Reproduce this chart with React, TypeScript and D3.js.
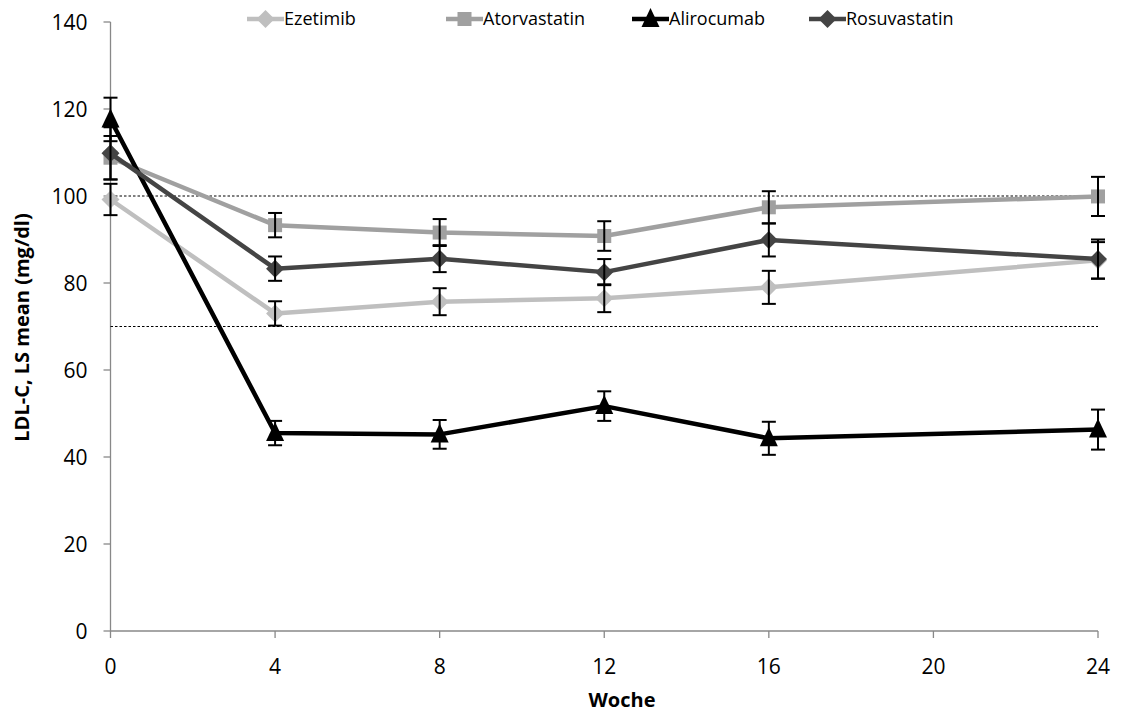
import React from "react";
import * as d3 from "d3";

const weeks = [0, 4, 8, 12, 16, 24];
const seriesNames = ["Ezetimib", "Atorvastatin", "Alirocumab", "Rosuvastatin"];
const ezetimib = [99.2, 73.0, 75.7, 76.5, 79.0, 85.2];
const ezetimibErr = [3.6, 2.8, 3.1, 3.2, 3.8, 4.2];
const atorvastatin = [108.8, 93.3, 91.6, 90.8, 97.4, 99.9];
const atorvastatinErr = [5.0, 2.8, 3.1, 3.4, 3.7, 4.5];
const alirocumab = [117.6, 45.5, 45.2, 51.7, 44.3, 46.3];
const alirocumabErr = [5.0, 2.8, 3.3, 3.4, 3.8, 4.6];
const rosuvastatin = [109.8, 83.3, 85.6, 82.5, 89.9, 85.5];
const rosuvastatinErr = [6.0, 2.8, 3.1, 3.0, 3.8, 4.5];
const xTicks = [0, 4, 8, 12, 16, 20, 24];
const yTicks = [0, 20, 40, 60, 80, 100, 120, 140];
const refLines = [100, 70];

const colors = ["#BFBFBF", "#A0A0A0", "#000000", "#444444"];
const shapes = ["diamond", "square", "triangle", "diamond"];
const values = [ezetimib, atorvastatin, alirocumab, rosuvastatin];
const errors = [ezetimibErr, atorvastatinErr, alirocumabErr, rosuvastatinErr];

const font = "'Open Sans', 'Noto Sans', sans-serif";

function Marker({ shape, cx, cy, fill }: { shape: string; cx: number; cy: number; fill: string }) {
  if (shape === "diamond") {
    const r = 9;
    return <path d={`M${cx},${cy - r}L${cx + r},${cy}L${cx},${cy + r}L${cx - r},${cy}Z`} fill={fill} />;
  }
  if (shape === "square") {
    const r = 7;
    return <rect x={cx - r} y={cy - r} width={2 * r} height={2 * r} fill={fill} />;
  }
  const r = 9;
  return <path d={`M${cx},${cy - r - 2}L${cx + r},${cy + r - 1}L${cx - r},${cy + r - 1}Z`} fill={fill} />;
}

export default function App() {
  const x = d3.scaleLinear().domain([0, 24]).range([110.5, 1098]);
  const y = d3.scaleLinear().domain([0, 140]).range([631, 22]);
  const line = d3
    .line<number>()
    .x((_, i) => x(weeks[i]))
    .y((d) => y(d));

  const legendX = [247, 446, 632, 809];

  return (
    <svg width={1128} height={716} style={{ position: "absolute", left: 0, top: 0, background: "#fff" }}>
      {/* axes */}
      <line x1={x(0)} x2={x(0)} y1={y(140)} y2={y(0)} stroke="#888" strokeWidth={1.3} />
      <line x1={x(0)} x2={x(24)} y1={y(0)} y2={y(0)} stroke="#888" strokeWidth={1.3} />
      {yTicks.map((t) => (
        <g key={"y" + t}>
          <line x1={x(0) - 7} x2={x(0)} y1={y(t)} y2={y(t)} stroke="#888" strokeWidth={1.3} />
          <text x={x(0) - 23} y={y(t)} dy="0.36em" textAnchor="end" fontSize={21} fontFamily={font} fill="#000">
            {t}
          </text>
        </g>
      ))}
      {xTicks.map((t) => (
        <g key={"x" + t}>
          <line x1={x(t)} x2={x(t)} y1={y(0)} y2={y(0) + 7} stroke="#888" strokeWidth={1.3} />
          <text x={x(t)} y={y(0) + 43} textAnchor="middle" fontSize={21} fontFamily={font} fill="#000">
            {t}
          </text>
        </g>
      ))}
      <text
        transform={`translate(29,${(y(0) + y(140)) / 2 + 1}) rotate(-90)`}
        textAnchor="middle"
        fontSize={20}
        fontWeight="bold"
        fontFamily={font}
      >
        LDL-C, LS mean (mg/dl)
      </text>
      <text x={622} y={707} textAnchor="middle" fontSize={20} fontWeight="bold" fontFamily={font}>
        Woche
      </text>

      {/* reference lines */}
      {refLines.map((v) => (
        <line key={v} x1={x(0)} x2={x(24)} y1={y(v)} y2={y(v)} stroke="#000" strokeWidth={1} strokeDasharray="2.5,2" />
      ))}

      {/* series */}
      {values.map((vals, si) => (
        <g key={seriesNames[si]}>
          <path d={line(vals) || ""} fill="none" stroke={colors[si]} strokeWidth={4.5} strokeLinejoin="round" />
          {vals.map((v, i) => (
            <Marker key={i} shape={shapes[si]} cx={x(weeks[i])} cy={y(v)} fill={colors[si]} />
          ))}
          {vals.map((v, i) => {
            const e = errors[si][i];
            const cx = x(weeks[i]);
            return (
              <g key={"e" + i} stroke="#000" strokeWidth={2}>
                <line x1={cx} x2={cx} y1={y(v + e)} y2={y(v - e)} />
                <line x1={cx - 7} x2={cx + 7} y1={y(v + e)} y2={y(v + e)} />
                <line x1={cx - 7} x2={cx + 7} y1={y(v - e)} y2={y(v - e)} />
              </g>
            );
          })}
        </g>
      ))}

      {/* legend */}
      {seriesNames.map((name, si) => (
        <g key={"lg" + si}>
          <line x1={legendX[si]} x2={legendX[si] + 37} y1={19} y2={19} stroke={colors[si]} strokeWidth={4.5} />
          <Marker shape={shapes[si]} cx={legendX[si] + 18.5} cy={19} fill={colors[si]} />
          <text x={legendX[si] + 37} y={19} dy="0.36em" fontSize={18} fontFamily={font} fill="#000">
            {name}
          </text>
        </g>
      ))}
    </svg>
  );
}
